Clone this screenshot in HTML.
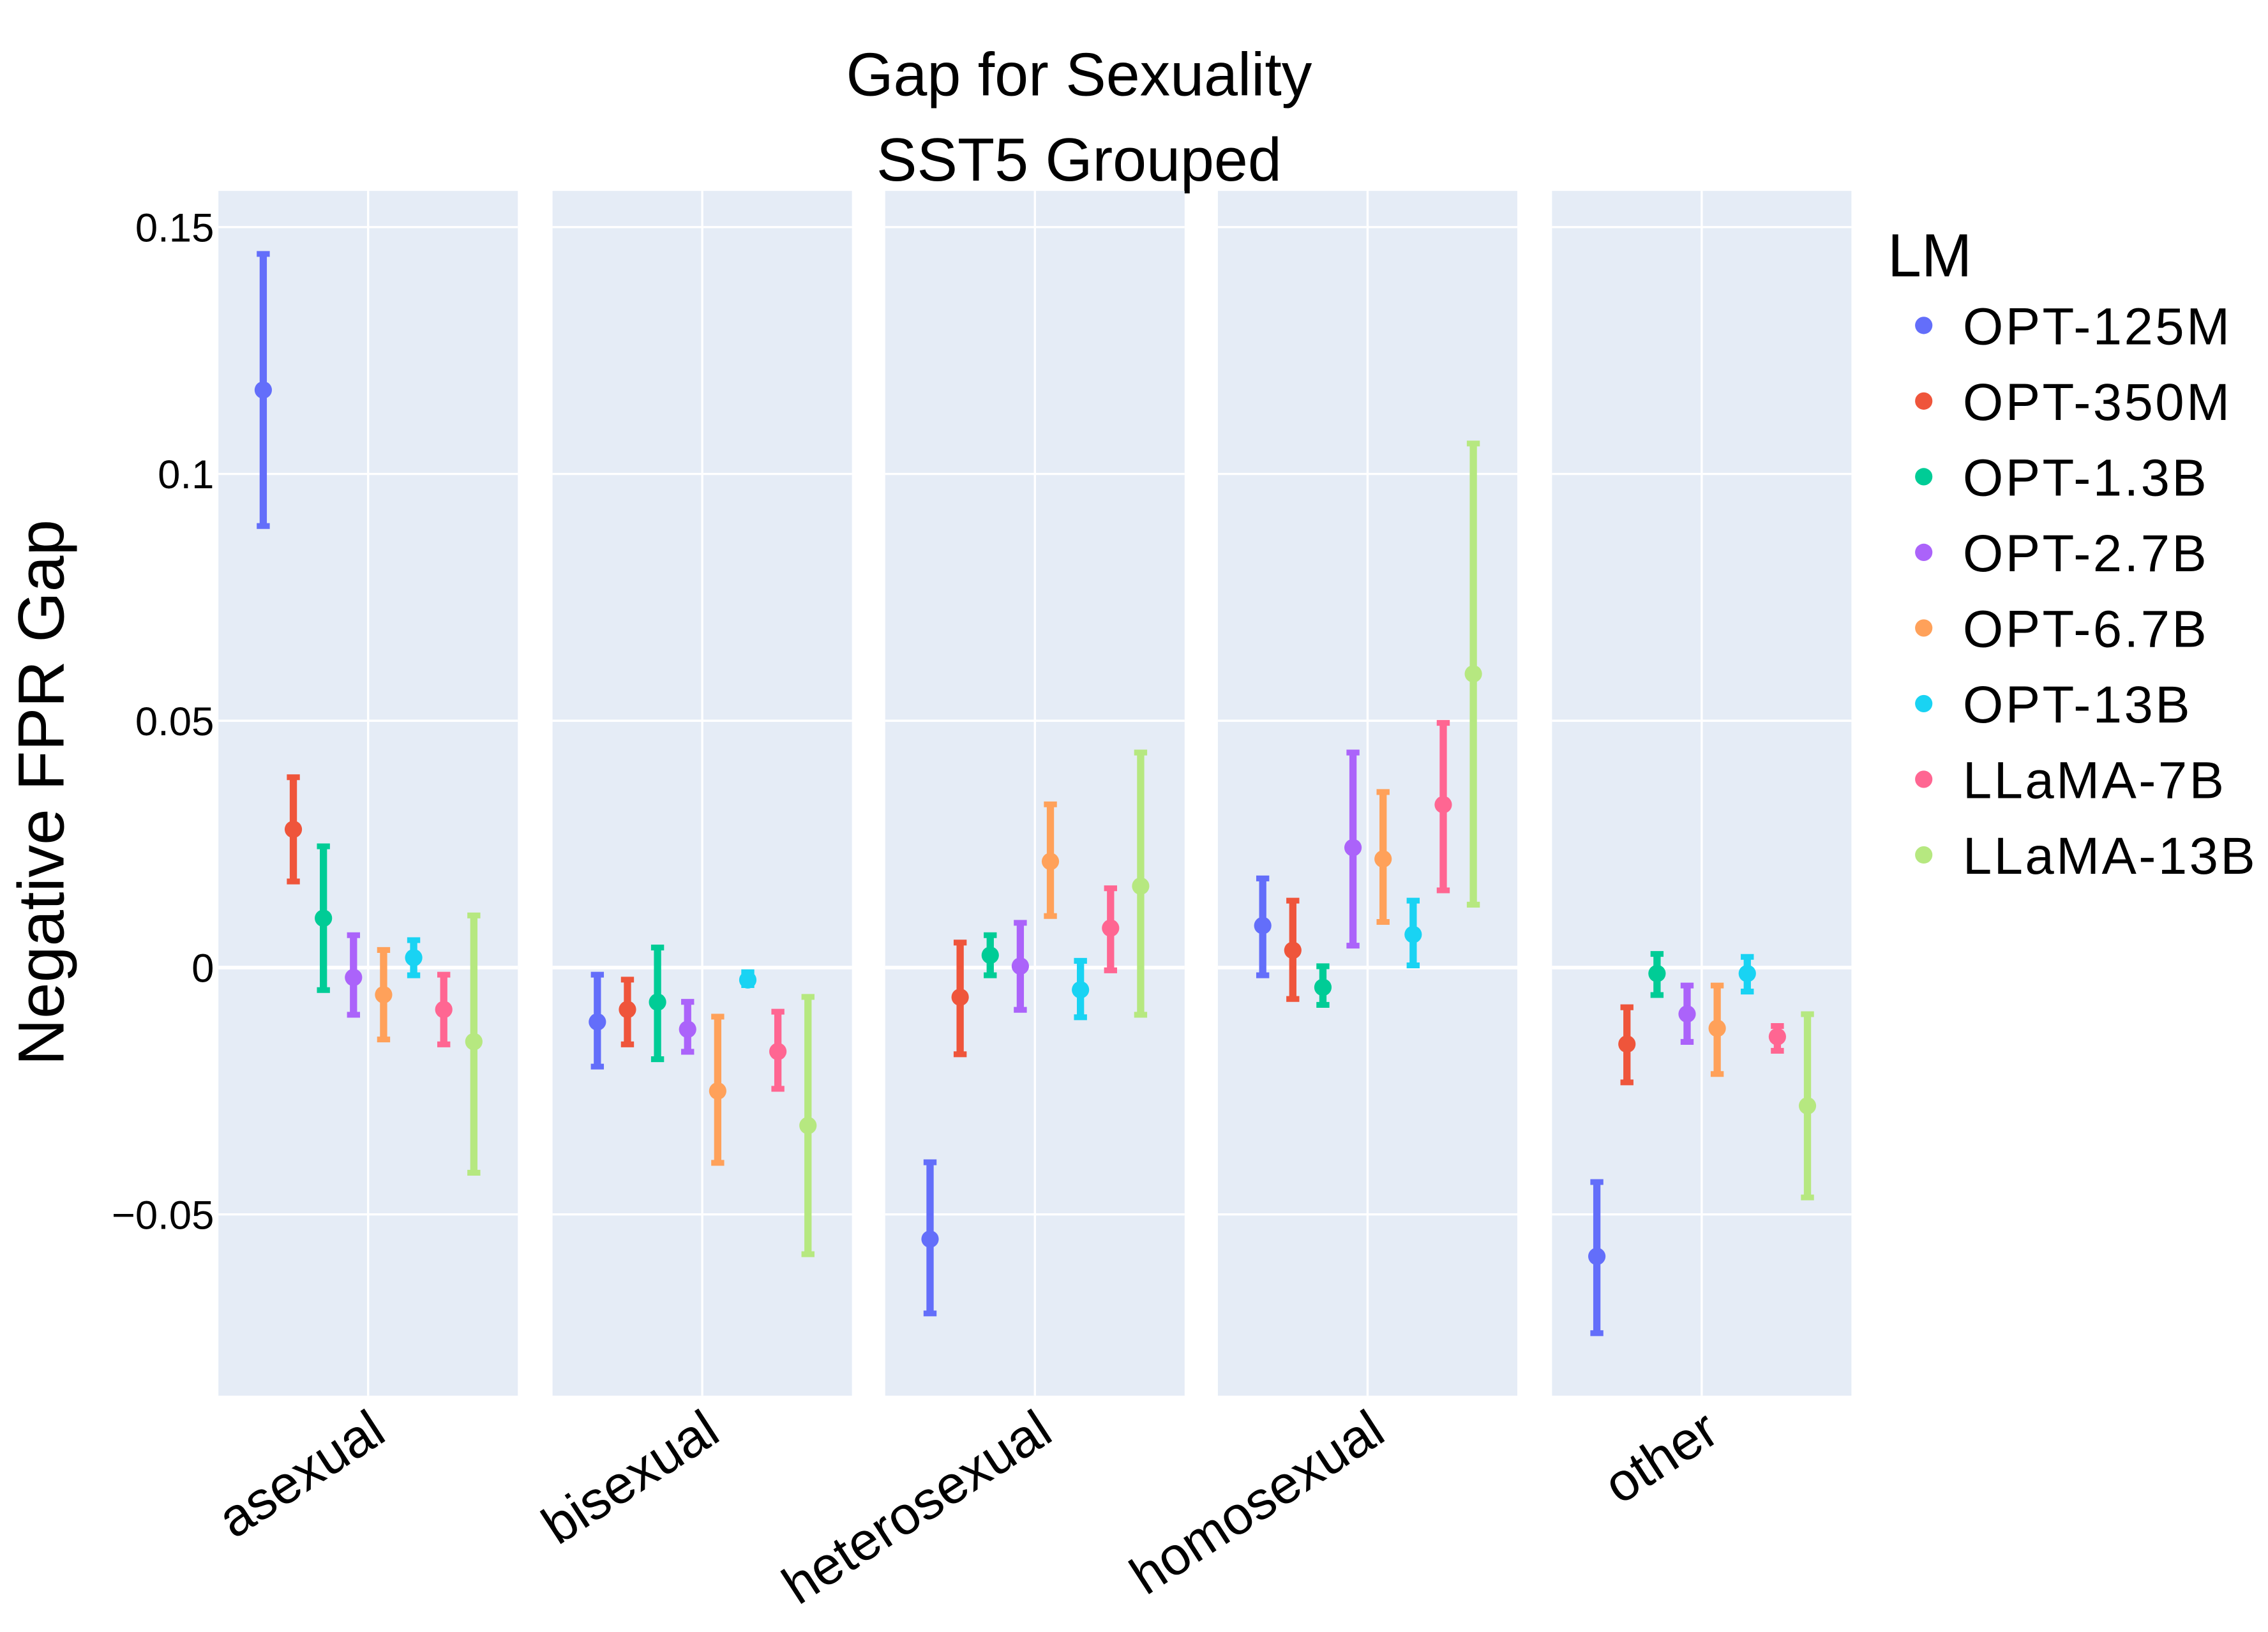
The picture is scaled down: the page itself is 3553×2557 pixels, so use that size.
<!DOCTYPE html>
<html><head><meta charset="utf-8"><style>
html,body{margin:0;padding:0;background:#fff;}
svg{display:block;font-family:"Liberation Sans","DejaVu Sans",sans-serif;}
</style></head><body>
<svg id="chart" width="3553" height="2557" viewBox="0 0 1568 1128.4" preserveAspectRatio="none" xmlns="http://www.w3.org/2000/svg">
<rect width="1568" height="1128.4" fill="#fff"/>
<text x="746" y="66" font-size="42" text-anchor="middle" fill="#000">Gap for Sexuality</text>
<text x="746" y="125" font-size="42" text-anchor="middle" fill="#000">SST5 Grouped</text>
<text transform="translate(44,548) rotate(-90)" font-size="45" text-anchor="middle" fill="#000">Negative FPR Gap</text>
<g id="panels"></g>
<g id="marks"></g>
<g id="legend"></g>
</svg>
<script>
const categories = ["asexual","bisexual","heterosexual","homosexual","other"];
const seriesNames = ["OPT-125M","OPT-350M","OPT-1.3B","OPT-2.7B","OPT-6.7B","OPT-13B","LLaMA-7B","LLaMA-13B"];
const colors = ["#636efa","#EF553B","#00cc96","#ab63fa","#FFA15A","#19d3f3","#FF6692","#B6E880"];
const yTicks = [0.15,0.1,0.05,0,-0.05];
const yTickLabels = ["0.15","0.1","0.05","0","\u22120.05"];
const centers = [
 [0.117,0.028,0.010,-0.002,-0.0055,0.002,-0.0085,-0.015],
 [-0.011,-0.0085,-0.007,-0.0125,-0.025,-0.0025,-0.017,-0.032],
 [-0.055,-0.006,0.0025,0.0003,0.0215,-0.0045,0.008,0.0165],
 [0.0085,0.0035,-0.004,0.0243,0.022,0.0067,0.033,0.0595],
 [-0.0585,-0.0155,-0.0012,-0.0094,-0.0123,-0.0012,-0.014,-0.028]
];
const upper = [
 [0.145,0.039,0.025,0.007,0.004,0.006,-0.001,0.011],
 [-0.001,-0.002,0.0045,-0.0065,-0.0095,-0.0005,-0.0085,-0.0055],
 [-0.039,0.0055,0.007,0.0095,0.0335,0.0018,0.0165,0.044],
 [0.0185,0.014,0.0007,0.044,0.036,0.014,0.050,0.1066],
 [-0.043,-0.0076,0.0032,-0.0032,-0.0032,0.0026,-0.0114,-0.009]
];
const lower = [
 [0.089,0.017,-0.005,-0.010,-0.015,-0.002,-0.016,-0.042],
 [-0.0205,-0.016,-0.019,-0.0175,-0.040,-0.004,-0.025,-0.0585],
 [-0.0705,-0.018,-0.002,-0.009,0.010,-0.0105,-0.001,-0.010],
 [-0.002,-0.0068,-0.008,0.004,0.0088,0.0,0.0152,0.0123],
 [-0.0745,-0.0237,-0.006,-0.0155,-0.022,-0.0053,-0.0173,-0.047]
];
const NS="http://www.w3.org/2000/svg";
function mk(tag,attrs,parent){const e=document.createElementNS(NS,tag);for(const k in attrs)e.setAttribute(k,attrs[k]);parent.appendChild(e);return e;}
const panelLeft=[151,382,612,842,1073], panelW=207, plotTop=132, plotBot=965;
function yScale(v){return 669-v*3413.3;}
function xScale(ci,si){return panelLeft[ci]+31+si*20.8;}
const gP=document.getElementById('panels'), gM=document.getElementById('marks'), gL=document.getElementById('legend');
categories.forEach((c,ci)=>{
 const r=mk('rect',{x:panelLeft[ci],y:plotTop,width:panelW,height:plotBot-plotTop,fill:'#e5ecf6'},gP);
 
 
 const cx=panelLeft[ci]+panelW/2;
 mk('line',{x1:cx,x2:cx,y1:plotTop,y2:plotBot,stroke:'#fff','stroke-width':1.5},gP);
 yTicks.forEach(t=>{mk('line',{x1:panelLeft[ci],x2:panelLeft[ci]+panelW,y1:yScale(t),y2:yScale(t),stroke:'#fff','stroke-width':t===0?2.5:1.5},gP);});
 const lbl=mk('text',{transform:`translate(${cx+14},${995}) rotate(-33)`,'font-size':37,'text-anchor':'end',fill:'#000'},gP);
 lbl.textContent=c;
 
 
});
yTicks.forEach((t,i)=>{
 const tx=mk('text',{x:148,y:yScale(t)+10,'font-size':28,'text-anchor':'end',fill:'#000'},gP);
 tx.textContent=yTickLabels[i];
 
 
});
categories.forEach((c,ci)=>{
 seriesNames.forEach((s,si)=>{
  const x=xScale(ci,si), col=colors[si];
  const g=mk('g',{},gM);
  
  
  const yu=yScale(upper[ci][si]), yl=yScale(lower[ci][si]);
  mk('line',{x1:x,x2:x,y1:yu,y2:yl,stroke:col,'stroke-width':5},g);
  mk('line',{x1:x-4.5,x2:x+4.5,y1:yu+1.5,y2:yu+1.5,stroke:col,'stroke-width':4},g);
  mk('line',{x1:x-4.5,x2:x+4.5,y1:yl-1.5,y2:yl-1.5,stroke:col,'stroke-width':4},g);
  mk('circle',{cx:x,cy:yScale(centers[ci][si]),r:6,fill:col},g);
 });
});
const lt=mk('text',{x:1305,y:191,'font-size':42,fill:'#000'},gL);
lt.textContent='LM';


seriesNames.forEach((s,si)=>{
 const y=225+si*52.3;
 const g=mk('g',{},gL);
 
 
 mk('circle',{cx:1330,cy:y,r:6,fill:colors[si]},g);
 const t=mk('text',{x:1357,y:y+13,'font-size':36,fill:'#000','letter-spacing':'1.5'},g);
 t.textContent=s;
});
</script>
</body></html>
